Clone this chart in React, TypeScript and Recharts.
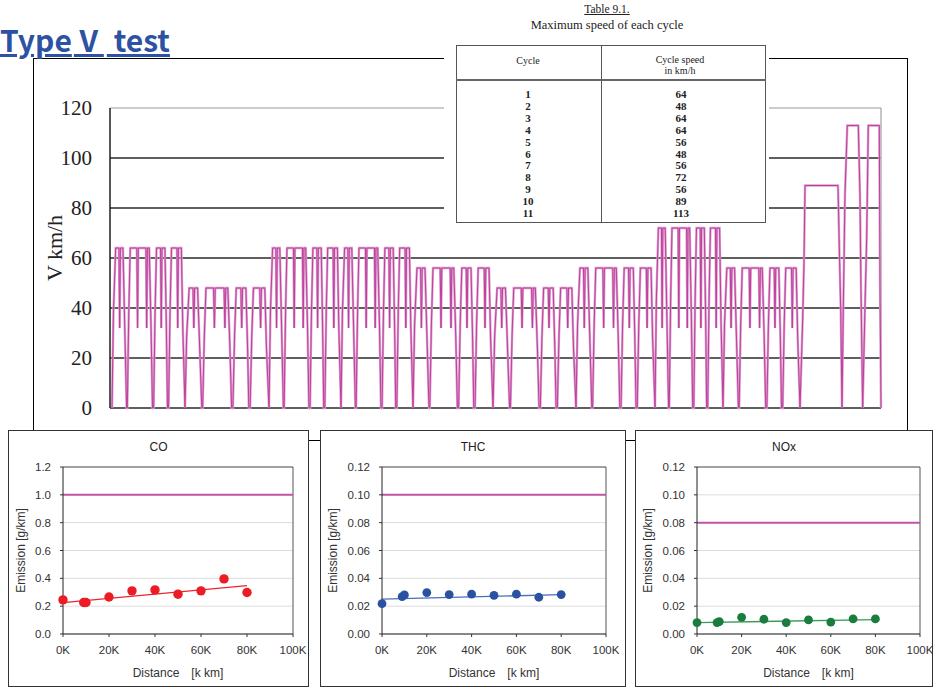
import React from 'react';
import { LineChart, Line, ComposedChart, Scatter, XAxis, YAxis, CartesianGrid, ReferenceLine, Label } from 'recharts';

// max speed of each cycle (table 9.1) and how long each cycle runs on the time axis
const CYCLE_SPEED = [64, 48, 64, 64, 56, 48, 56, 72, 56, 89, 113];
const CYCLE_SPAN = [73, 84, 72, 72, 80, 83, 79, 68, 77, 42, 39];
const CYCLE_KIND = ['lap', 'lap', 'lap', 'lap', 'lap', 'lap', 'lap', 'lap', 'lap', 'steady', 'double'];
const DIP_SPEED = 32;
const LEAD_IN = 2;
const TRACE_END = 771;
const SPEED_TICKS = [0, 20, 40, 60, 80, 100, 120];
const SPEED_GRID = [0, 20, 40, 60, 80, 100];

// [percent of the cycle, share of the cycle speed], 'dip' = slow down to DIP_SPEED
type ShapePoint = [number, number | 'dip'];
const LAP_SHAPE: ShapePoint[] = [
  [0, 0], [2, 0.6], [5, 1], [9.5, 1], [10.5, 'dip'], [11.5, 1], [15, 1], [17, 0.6], [20, 0],
  [21, 0], [23, 0.6], [25, 1], [34, 1], [35, 'dip'], [36, 1], [46.5, 1], [47.5, 'dip'], [48.5, 1], [51, 1], [53.5, 0.5], [55.5, 0],
  [57, 0], [59, 0.6], [61, 1], [66.5, 1], [67.5, 'dip'], [68.5, 1], [72.5, 1], [74.5, 0.5], [76, 0],
  [77.5, 0], [79.5, 0.6], [81.5, 1], [89, 1], [90, 'dip'], [91, 1], [95, 1], [97, 0.5], [100, 0],
];
const STEADY_SHAPE: ShapePoint[] = [
  [0, 0], [6.4, 0.4], [9.5, 0.65], [12, 1], [90.5, 1], [93.6, 0.72], [97, 0.44], [100, 0],
];
const DOUBLE_SHAPE: ShapePoint[] = [
  [0, 0], [3.3, 0.35], [7.7, 0.76], [13.6, 1], [41.8, 1], [46, 0.76], [48.7, 0.42], [53, 0],
  [59, 0.36], [63.3, 0.6], [67.4, 1], [95.6, 1], [97.5, 0.43], [100, 0],
];
const SHAPES: Record<string, ShapePoint[]> = { lap: LAP_SHAPE, steady: STEADY_SHAPE, double: DOUBLE_SHAPE };

// emission results
const DIST_KM = [0, 9000, 10000, 20000, 30000, 40000, 50000, 60000, 70000, 80000];
const TREND_KM = [0, 80000];
const KM_TICKS = [0, 20000, 40000, 60000, 80000, 100000];

const CO_VALUES = [0.245, 0.226, 0.226, 0.266, 0.31, 0.317, 0.286, 0.31, 0.396, 0.298];
const CO_TREND = [0.226, 0.348];
const CO_LIMIT = 1.0;
const CO_TICKS = [0, 0.2, 0.4, 0.6, 0.8, 1.0, 1.2];

const THC_VALUES = [0.0218, 0.0269, 0.0281, 0.0298, 0.0283, 0.0286, 0.0278, 0.0286, 0.0264, 0.0283];
const THC_TREND = [0.025, 0.0283];
const THC_LIMIT = 0.1;

const NOX_VALUES = [0.0082, 0.0082, 0.0089, 0.012, 0.0106, 0.0082, 0.0101, 0.0086, 0.0108, 0.0108];
const NOX_TREND = [0.0082, 0.0103];
const NOX_LIMIT = 0.08;
const SMALL_TICKS = [0, 0.02, 0.04, 0.06, 0.08, 0.1, 0.12];

const speedTrace: { t: number; v: number }[] = [];
let cycleStart = LEAD_IN;
CYCLE_SPEED.forEach((top, i) => {
  SHAPES[CYCLE_KIND[i]].forEach(([p, s]) => {
    speedTrace.push({ t: cycleStart + (p / 100) * CYCLE_SPAN[i], v: s === 'dip' ? DIP_SPEED : s * top });
  });
  cycleStart += CYCLE_SPAN[i];
});

const SANS = '"Liberation Sans", Arial, sans-serif';
const SERIF = '"Liberation Serif", "Times New Roman", serif';

const sideLabel = (text: string, dx: number, dy: number, style: React.CSSProperties) => (props: any) => {
  const vb = props.viewBox || { x: 0, y: 0, height: 0 };
  const x = vb.x + dx;
  const y = vb.y + vb.height / 2 + dy;
  return (
    <text x={x} y={y} transform={`rotate(-90 ${x} ${y})`} textAnchor="middle" dominantBaseline="central" style={style}>
      {text}
    </text>
  );
};

const bottomLabel = (text: string, dy: number) => (props: any) => {
  const vb = props.viewBox || { x: 0, y: 0, width: 0 };
  return (
    <text x={vb.x + vb.width / 2} y={vb.y + dy} textAnchor="middle" dominantBaseline="central"
      style={{ fontFamily: SANS, fontSize: 12, fill: '#333' }}>
      {text}
    </text>
  );
};

interface PanelProps {
  left: number;
  width: number;
  axisW: number;
  rightM: number;
  title: string;
  yMax: number;
  yTicks: number[];
  digits: number;
  values: number[];
  trend: number[];
  limit: number;
  dotColor: string;
  lineColor: string;
  r: number;
}

const EmissionPanel: React.FC<PanelProps> = ({ left, width, axisW, rightM, title, yMax, yTicks, digits, values, trend, limit, dotColor, lineColor, r }) => {
  const points = DIST_KM.map((x, i) => ({ x, y: values[i] }));
  const trendPts = TREND_KM.map((x, i) => ({ x, y: trend[i] }));
  const tickStyle = { fontFamily: SANS, fontSize: 11.5, fill: '#333' };
  return (
    <div style={{ position: 'absolute', left, top: 430, width, height: 257, background: '#fff', border: '1px solid #333', boxSizing: 'border-box' }}>
      <div style={{ position: 'absolute', left: 0, right: 0, top: 9, textAlign: 'center', fontFamily: SANS, fontSize: 12, color: '#222' }}>{title}</div>
      <div style={{ position: 'absolute', left: -1, top: -1 }}>
        <ComposedChart width={width} height={257} margin={{ top: 37, right: rightM, bottom: 0, left: 0 }}>
          <CartesianGrid vertical={false} stroke="#dcdcdc" />
          <XAxis dataKey="x" type="number" domain={[0, 100000]} ticks={KM_TICKS} height={53}
            tickFormatter={(v: number) => `${v / 1000}K`} axisLine={{ stroke: '#222' }} tickLine={{ stroke: '#333' }}
            tickSize={3} tickMargin={9} tick={tickStyle} interval={0}>
            <Label content={bottomLabel('Distance\u3000[k km]', 39)} />
          </XAxis>
          <YAxis dataKey="y" type="number" domain={[0, yMax]} ticks={yTicks} width={axisW}
            tickFormatter={(v: number) => v.toFixed(digits)} axisLine={{ stroke: '#222' }} tickLine={{ stroke: '#333' }}
            tickSize={3} tickMargin={9} tick={tickStyle} interval={0}>
            <Label content={sideLabel('Emission [g/km]', 13, 0, { fontFamily: SANS, fontSize: 12, fill: '#333' })} />
          </YAxis>
          <ReferenceLine y={yMax} stroke="#555" />
          <ReferenceLine x={100000} stroke="#555" />
          <ReferenceLine y={limit} stroke="#c255a6" strokeWidth={2} />
          <Line data={trendPts} dataKey="y" stroke={lineColor} strokeWidth={1.3} dot={false} isAnimationActive={false} />
          <Scatter data={points} dataKey="y" isAnimationActive={false}
            shape={(p: any) => <circle cx={p.cx} cy={p.cy} r={r} fill={dotColor} />} />
        </ComposedChart>
      </div>
    </div>
  );
};

const CycleTable: React.FC = () => (
  <div style={{ position: 'absolute', left: 444, top: 0, width: 325, height: 225, background: '#fff', fontFamily: SERIF, color: '#222' }}>
    <div style={{ position: 'absolute', left: 0, width: 326, top: 3, textAlign: 'center', fontSize: 11.5, textDecoration: 'underline' }}>Table 9.1.</div>
    <div style={{ position: 'absolute', left: 0, width: 326, top: 18, textAlign: 'center', fontSize: 12.5 }}>Maximum speed of each cycle</div>
    <div style={{ position: 'absolute', left: 12, top: 45, width: 310, height: 178, border: '1.5px solid #555', boxSizing: 'border-box' }} />
    <div style={{ position: 'absolute', left: 157, top: 45, width: 0, height: 178, borderLeft: '1.5px solid #555' }} />
    <div style={{ position: 'absolute', left: 12, top: 79, width: 310, height: 0, borderTop: '2px solid #666' }} />
    <div style={{ position: 'absolute', left: 44, width: 80, top: 55, textAlign: 'center', fontSize: 10 }}>Cycle</div>
    <div style={{ position: 'absolute', left: 186, width: 100, top: 54, textAlign: 'center', fontSize: 10, lineHeight: '11px' }}>
      Cycle speed<br />in km/h
    </div>
    {CYCLE_SPEED.map((v, i) => (
      <React.Fragment key={i}>
        <div style={{ position: 'absolute', left: 64, width: 40, top: 88 + i * 11.9, textAlign: 'center', fontSize: 11, lineHeight: '12px', fontWeight: 600 }}>{i + 1}</div>
        <div style={{ position: 'absolute', left: 217, width: 40, top: 88 + i * 11.9, textAlign: 'center', fontSize: 11, lineHeight: '12px', fontWeight: 600 }}>{v}</div>
      </React.Fragment>
    ))}
  </div>
);

export default function App() {
  return (
    <div style={{ position: 'absolute', left: 0, top: 0, width: 934, height: 688, background: '#fff', overflow: 'hidden' }}>
      <div style={{ position: 'absolute', left: 33, top: 58, width: 875, height: 383, border: '1px solid #000', boxSizing: 'border-box' }} />
      <div style={{ position: 'absolute', left: 0, top: 0 }}>
        <LineChart width={900} height={420} data={speedTrace} margin={{ top: 108, right: 19, bottom: 12, left: 0 }}>
          <XAxis dataKey="t" type="number" domain={[0, TRACE_END]} hide />
          <YAxis type="number" domain={[0, 120]} ticks={SPEED_TICKS} width={110} interval={0}
            axisLine={{ stroke: '#111', strokeWidth: 1.4 }} tickLine={false} tickSize={6} tickMargin={12}
            tick={{ fontFamily: SERIF, fontSize: 21, fill: '#222' }}>
            <Label content={sideLabel('V km/h', 54, -10, { fontFamily: SERIF, fontSize: 22, fill: '#222' })} />
          </YAxis>
          {SPEED_GRID.map((g) => (
            <ReferenceLine key={g} y={g} stroke="#2a2a2a" strokeWidth={1.4} />
          ))}
          <ReferenceLine y={120} stroke="#9a9a9a" strokeWidth={1.2} />
          <ReferenceLine x={TRACE_END} stroke="#a0a0a0" strokeWidth={1.2} />
          <Line dataKey="v" stroke="#dc9fcf" strokeWidth={2.4} dot={false} isAnimationActive={false} />
          <Line dataKey="v" stroke="#bf3f9c" strokeWidth={1} dot={false} isAnimationActive={false} />
        </LineChart>
      </div>
      <CycleTable />
      <div style={{ position: 'absolute', left: 0, top: 21, fontFamily: '"Noto Sans CJK JP", sans-serif', fontWeight: 700, fontSize: 30, lineHeight: '36px', color: '#2d52a3', textDecoration: 'underline', whiteSpace: 'pre' }}>
        Type<span style={{ margin: '0 3px 0 2px' }}>Ⅴ</span> test
      </div>
      <EmissionPanel left={8} width={301} axisW={55} rightM={16} title="CO" yMax={1.2} yTicks={CO_TICKS} digits={1}
        values={CO_VALUES} trend={CO_TREND} limit={CO_LIMIT} dotColor="#ec1c24" lineColor="#e8262d" r={4.7} />
      <EmissionPanel left={320} width={306} axisW={62} rightM={20} title="THC" yMax={0.12} yTicks={SMALL_TICKS} digits={2}
        values={THC_VALUES} trend={THC_TREND} limit={THC_LIMIT} dotColor="#2a52a0" lineColor="#4a6fb8" r={4.4} />
      <EmissionPanel left={635} width={298} axisW={62} rightM={13} title="NOx" yMax={0.12} yTicks={SMALL_TICKS} digits={2}
        values={NOX_VALUES} trend={NOX_TREND} limit={NOX_LIMIT} dotColor="#1a7d3e" lineColor="#3a9a5a" r={4.4} />
    </div>
  );
}
